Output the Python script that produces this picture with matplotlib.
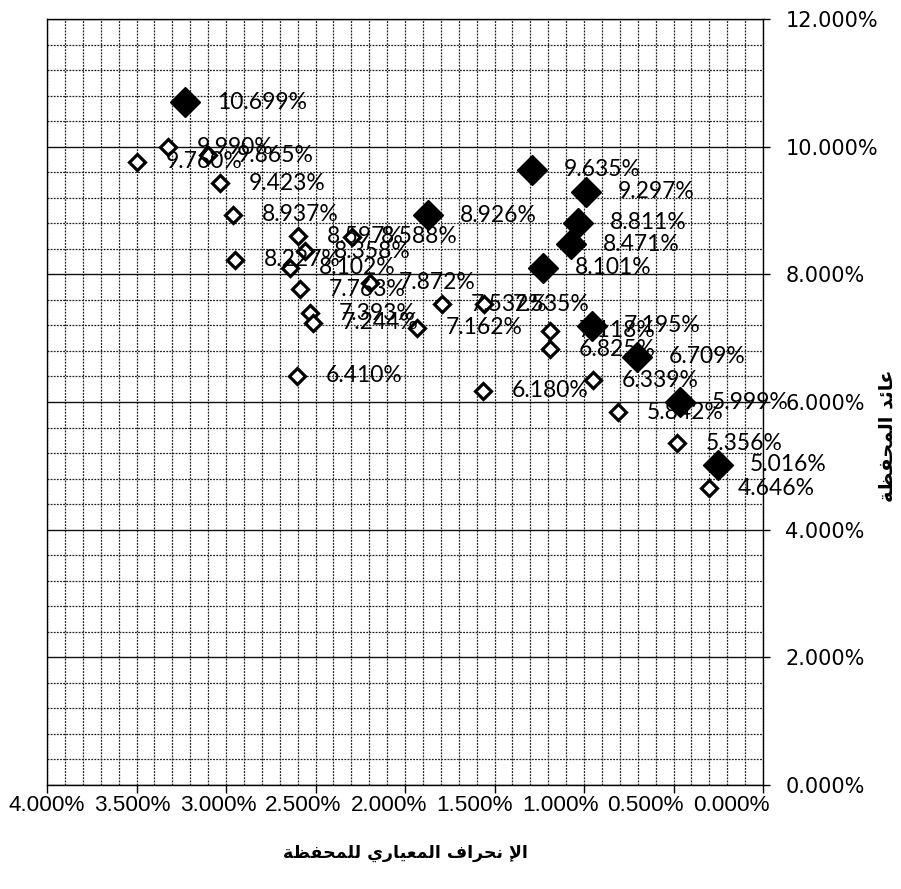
import matplotlib
matplotlib.use("Agg")
import matplotlib.pyplot as plt
import matplotlib.transforms as mtransforms
from matplotlib.ticker import MultipleLocator, FuncFormatter

# ---- data (risk = portfolio std-dev %, ret = portfolio return %) ----
risk_efficient = [3.229, 1.291, 0.989, 1.872, 1.034, 1.073, 1.229, 0.955, 0.704, 0.464, 0.251]
ret_efficient = [10.699, 9.635, 9.297, 8.926, 8.811, 8.471, 8.101, 7.195, 6.709, 5.999, 5.016]

risk_other = [3.324, 3.101, 3.497, 3.034, 2.961, 2.598, 2.296, 2.559, 2.950, 2.642,
              2.196, 2.587, 1.793, 1.559, 2.531, 2.514, 1.933, 1.190, 1.190, 2.603,
              0.950, 1.564, 0.810, 0.480, 0.302]
ret_other = [9.990, 9.865, 9.760, 9.423, 8.937, 8.597, 8.588, 8.358, 8.227, 8.102,
             7.872, 7.763, 7.532, 7.535, 7.393, 7.244, 7.162, 7.118, 6.825, 6.410,
             6.339, 6.180, 5.842, 5.356, 4.646]

x_ticks = [4.0, 3.5, 3.0, 2.5, 2.0, 1.5, 1.0, 0.5, 0.0]
y_ticks = [0, 2, 4, 6, 8, 10, 12]

x_title = "الإ نحراف المعياري للمحفظة"
y_title = "عائد المحفظة"

# ---- minimal Arabic shaping (presentation forms) + RTL ordering ----
FORMS = {
    'ا': ('\uFE8D', '\uFE8E', None, None),
    'إ': ('\uFE87', '\uFE88', None, None),
    'د': ('\uFEA9', '\uFEAA', None, None),
    'ر': ('\uFEAD', '\uFEAE', None, None),
    'ة': ('\uFE93', '\uFE94', None, None),
    'ل': ('\uFEDD', '\uFEDE', '\uFEDF', '\uFEE0'),
    'ن': ('\uFEE5', '\uFEE6', '\uFEE7', '\uFEE8'),
    'ح': ('\uFEA1', '\uFEA2', '\uFEA3', '\uFEA4'),
    'ف': ('\uFED1', '\uFED2', '\uFED3', '\uFED4'),
    'م': ('\uFEE1', '\uFEE2', '\uFEE3', '\uFEE4'),
    'ع': ('\uFEC9', '\uFECA', '\uFECB', '\uFECC'),
    'ي': ('\uFEF1', '\uFEF2', '\uFEF3', '\uFEF4'),
    'ظ': ('\uFEC5', '\uFEC6', '\uFEC7', '\uFEC8'),
    'ئ': ('\uFE89', '\uFE8A', '\uFE8B', '\uFE8C'),
}
LAM_ALEF = {'ا': ('\uFEFB', '\uFEFC'), 'إ': ('\uFEF9', '\uFEFA')}


def shape_word(word):
    toks = []
    i = 0
    while i < len(word):
        c = word[i]
        if c == 'ل' and i + 1 < len(word) and word[i + 1] in LAM_ALEF:
            iso, fin = LAM_ALEF[word[i + 1]]
            toks.append((iso, fin, None, None))
            i += 2
        else:
            toks.append(FORMS.get(c, (c, c, None, None)))
            i += 1
    out = []
    for k, f in enumerate(toks):
        prev_j = k > 0 and toks[k - 1][2] is not None
        next_j = k < len(toks) - 1 and f[2] is not None
        if prev_j and next_j:
            out.append(f[3])
        elif prev_j:
            out.append(f[1])
        elif next_j:
            out.append(f[2])
        else:
            out.append(f[0])
    return ''.join(out)


def arabic(text):
    shaped = ' '.join(shape_word(w) for w in text.split(' '))
    return shaped[::-1]


# ---- figure ----
fig = plt.figure(figsize=(9.01, 8.89), dpi=100)
ax = fig.add_axes([47 / 901, 1 - 785 / 889, (763 - 47) / 901, (785 - 19) / 889])

ax.set_xlim(4, 0)
ax.set_ylim(0, 12)

# grid
ax.xaxis.set_major_locator(MultipleLocator(0.5))
ax.xaxis.set_minor_locator(MultipleLocator(0.1))
ax.yaxis.set_major_locator(MultipleLocator(2))
ax.yaxis.set_minor_locator(MultipleLocator(0.4))
ax.grid(which='minor', axis='both', color='#222222', linestyle=(0, (1.5, 1.0)), linewidth=0.9)
ax.grid(which='major', axis='x', color='#222222', linestyle=(0, (1.5, 1.0)), linewidth=0.9)
ax.grid(which='major', axis='y', color='#111111', linestyle='-', linewidth=1.0)
ax.set_axisbelow(True)

ax.set_xticks(x_ticks)
ax.set_yticks(y_ticks)
fmt = FuncFormatter(lambda v, p: f"{v:.3f}%")
ax.xaxis.set_major_formatter(fmt)
ax.yaxis.set_major_formatter(fmt)

ax.yaxis.tick_right()
ax.yaxis.set_label_position('right')
ax.tick_params(axis='y', which='major', direction='out', length=5, width=1, pad=11,
               labelsize=15)
ax.tick_params(axis='x', which='major', direction='out', length=6, width=1, pad=1.5,
               labelsize=16.2)
ax.tick_params(which='minor', length=0)
for lbl in ax.get_xticklabels():
    lbl.set_fontfamily('Liberation Sans')
for sp in ax.spines.values():
    sp.set_color('black')
    sp.set_linewidth(1.0)

# markers
ax.plot(risk_other, ret_other, linestyle='none', marker='D', markersize=8.2,
        markerfacecolor='white', markeredgecolor='black', markeredgewidth=2.3, zorder=3)
ax.plot(risk_efficient, ret_efficient, linestyle='none', marker='D', markersize=15.5,
        markerfacecolor='black', markeredgecolor='black', zorder=4)

# data labels
for x, y in zip(risk_other, ret_other):
    ax.annotate(f"{y:.3f}%", (x, y), xytext=(21, 0), textcoords='offset points',
                ha='left', va='center', fontsize=16.5, family='Lato', zorder=5)
for x, y in zip(risk_efficient, ret_efficient):
    ax.annotate(f"{y:.3f}%", (x, y), xytext=(23, 0), textcoords='offset points',
                ha='left', va='center', fontsize=16.5, family='Lato', zorder=5)

# axis titles
ax.set_xlabel(arabic(x_title), fontsize=12.5, fontweight='bold', labelpad=20)
ax.set_ylabel(arabic(y_title), fontsize=14, fontweight='bold', rotation=90)
ax.yaxis.set_label_coords(1.16, 0.456)

fig.canvas.draw()
# Excel-like compressed spacing of the category labels under the axis
for i, lbl in enumerate(ax.get_xticklabels()):
    lbl.set_transform(lbl.get_transform() +
                      mtransforms.ScaledTranslation(-4.0 * i / 100, 0, fig.dpi_scale_trans))

fig.savefig("out.png", dpi=100)
